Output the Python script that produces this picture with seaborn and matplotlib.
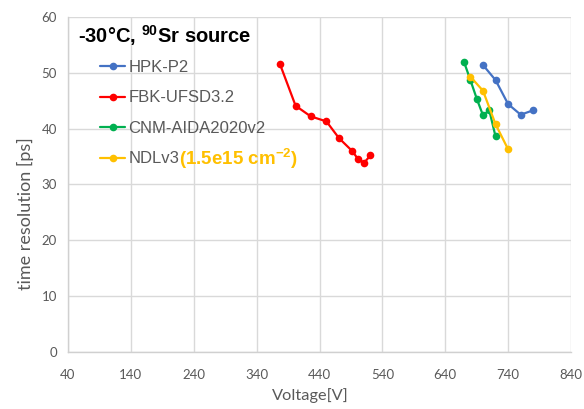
import matplotlib
matplotlib.use("Agg")
import matplotlib.pyplot as plt
import seaborn as sns
import pandas as pd

# ---- data ----
hpk_v = [700, 720, 740, 760, 780]
hpk_t = [51.4, 48.7, 44.4, 42.5, 43.3]

fbk_v = [377, 402, 426, 451, 471, 492, 501, 511, 521]
fbk_t = [51.6, 44.1, 42.2, 41.3, 38.3, 36.0, 34.6, 33.9, 35.2]

cnm_v = [670, 680, 690, 700, 710, 720]
cnm_t = [51.9, 48.7, 45.4, 42.4, 43.3, 38.6]

ndl_v = [680, 700, 720, 740]
ndl_t = [49.3, 46.8, 40.8, 36.3]

labels = ["HPK-P2", "FBK-UFSD3.2", "CNM-AIDA2020v2", "NDLv3"]
colors = ["#4472C4", "#FF0000", "#00B050", "#FFC000"]
x_ticks = [40, 140, 240, 340, 440, 540, 640, 740, 840]
y_ticks = [0, 10, 20, 30, 40, 50, 60]
title_text = "-30°C, $^{\\mathbf{90}}$Sr source"
fluence_text = "(1.5e15 cm$^{\\mathbf{-2}}$)"

sns.set_theme(style="white")
plt.rcParams["font.family"] = ["Liberation Sans", "DejaVu Sans"]
plt.rcParams["mathtext.fontset"] = "custom"
plt.rcParams["mathtext.rm"] = "Liberation Sans"
plt.rcParams["mathtext.bf"] = "Liberation Sans:bold"

fig = plt.figure(figsize=(5.84, 4.09), dpi=100)
ax = fig.add_axes([68 / 584, 1 - 352 / 409, 503 / 584, 335 / 409])

series = [(hpk_v, hpk_t), (fbk_v, fbk_t), (cnm_v, cnm_t), (ndl_v, ndl_t)]
for (v, t), lab, col in zip(series, labels, colors):
    df = pd.DataFrame({"V": v, "t": t})
    sns.lineplot(data=df, x="V", y="t", ax=ax, color=col, marker="o",
                 markersize=5.5, markeredgewidth=0, linewidth=1.6,
                 sort=False, label=lab)

ax.set_xlim(40, 840)
ax.set_ylim(0, 60)
ax.set_xticks(x_ticks)
ax.set_yticks(y_ticks)
ax.grid(True, color="#D9D9D9", linewidth=1.0)
ax.set_axisbelow(True)
for s in ["top", "right"]:
    ax.spines[s].set_visible(False)
for s in ["left", "bottom"]:
    ax.spines[s].set_color("#D0D0D0")
    ax.spines[s].set_linewidth(1.0)
ax.tick_params(axis="x", length=0, colors="#595959", labelsize=9.5, pad=12)
ax.tick_params(axis="y", length=0, colors="#595959", labelsize=9.5, pad=8)
for lbl in ax.get_xticklabels() + ax.get_yticklabels():
    lbl.set_family("Lato")

ax.set_xlabel("Voltage[V]", fontsize=11.8, color="#595959", family="Lato")
ax.xaxis.set_label_coords((310 - 68) / 503, -(388 - 352) / 335)
ax.set_ylabel("time resolution [ps]", fontsize=13, color="#595959", family="Lato")
ax.yaxis.set_label_coords(-(68 - 34) / 503, 1 - (214 - 17) / 335)

ax.text((78 - 68) / 503, 1 - (36 - 17) / 335, title_text, transform=ax.transAxes,
        ha="left", va="center", fontsize=14.5, fontweight="bold", color="black")

leg = ax.legend(loc="upper left", bbox_to_anchor=((100 - 68) / 503, 1 - (60 - 17) / 335),
                frameon=False, fontsize=12, handlelength=1.5, handletextpad=0.2,
                labelspacing=0.93, borderaxespad=0.0, borderpad=0.0)
for txt in leg.get_texts():
    txt.set_color("#595959")

ndl_label = leg.get_texts()[3]
ax.annotate(fluence_text, xy=(1.0, 0.5), xycoords=ndl_label, va="center", ha="left",
            color="#FFC000", fontsize=13.5, fontweight="bold", zorder=10)

fig.savefig("out.png", dpi=100)
